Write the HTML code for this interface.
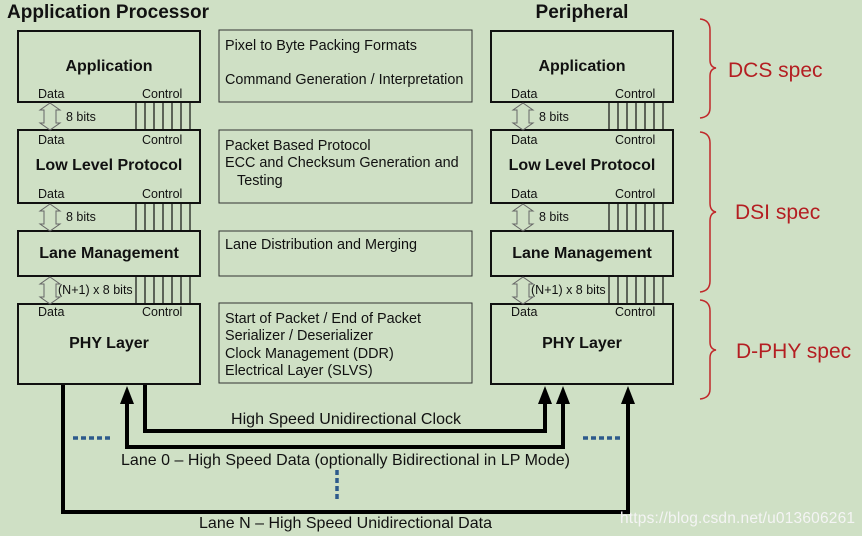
<!DOCTYPE html>
<html><head><meta charset="utf-8"><style>
html,body{margin:0;padding:0;background:#cfe0c5;}
svg{display:block;font-family:"Liberation Sans",Arial,sans-serif;}
</style></head><body>
<svg width="862" height="536" viewBox="0 0 862 536" xmlns="http://www.w3.org/2000/svg">
<rect width="862" height="536" fill="#cfe0c5"/>
<g font-weight="bold" font-size="19" fill="#111">
<text x="7" y="18" textLength="202">Application Processor</text>
<text x="582" y="18" text-anchor="middle">Peripheral</text>
</g>
<defs>
<g id="col">
 <g fill="none" stroke="#111" stroke-width="2">
  <rect x="0" y="31" width="182" height="71"/>
  <rect x="0" y="130" width="182" height="73"/>
  <rect x="0" y="231" width="182" height="45"/>
  <rect x="0" y="304" width="182" height="80"/>
 </g>
 <g stroke="#111" stroke-width="1.2">
  <path d="M118 102V130M127 102V130M136 102V130M145 102V130M154 102V130M163 102V130M172 102V130"/>
  <path d="M118 203V231M127 203V231M136 203V231M145 203V231M154 203V231M163 203V231M172 203V231"/>
  <path d="M118 276V304M127 276V304M136 276V304M145 276V304M154 276V304M163 276V304M172 276V304"/>
 </g>
 <g fill="none" stroke="#666" stroke-width="1">
  <path d="M32 103L42 110H38V123H42L32 130L22 123H26V110H22Z"/>
  <path d="M32 204L42 211H38V224H42L32 231L22 224H26V211H22Z"/>
  <path d="M32 277L42 284H38V297H42L32 304L22 297H26V284H22Z"/>
 </g>
 <g font-size="12.5" fill="#111">
  <text x="20" y="98">Data</text><text x="124" y="98">Control</text>
  <text x="20" y="144">Data</text><text x="124" y="144">Control</text>
  <text x="20" y="198">Data</text><text x="124" y="198">Control</text>
  <text x="20" y="316">Data</text><text x="124" y="316">Control</text>
  <text x="48" y="121">8 bits</text>
  <text x="48" y="221">8 bits</text>
  <text x="40" y="294">(N+1) x 8 bits</text>
 </g>
 <g font-size="16" font-weight="bold" fill="#111" text-anchor="middle">
  <text x="91" y="71">Application</text>
  <text x="91" y="170">Low Level Protocol</text>
  <text x="91" y="258">Lane Management</text>
  <text x="91" y="348">PHY Layer</text>
 </g>
</g>
</defs>
<use href="#col" x="18"/>
<use href="#col" x="491"/>
<g fill="none" stroke="#333" stroke-width="1">
 <rect x="219" y="30" width="253" height="72"/>
 <rect x="219" y="130" width="253" height="73"/>
 <rect x="219" y="231" width="253" height="45"/>
 <rect x="219" y="303" width="253" height="80"/>
</g>
<g font-size="14.4" fill="#111">
 <text x="225" y="50">Pixel to Byte Packing Formats</text>
 <text x="225" y="84">Command Generation / Interpretation</text>
 <text x="225" y="150">Packet Based Protocol</text>
 <text x="225" y="167">ECC and Checksum Generation and</text>
 <text x="237" y="185">Testing</text>
 <text x="225" y="249">Lane Distribution and Merging</text>
 <text x="225" y="323">Start of Packet / End of Packet</text>
 <text x="225" y="340">Serializer / Deserializer</text>
 <text x="225" y="358">Clock Management (DDR)</text>
 <text x="225" y="375">Electrical Layer (SLVS)</text>
</g>
<g fill="none" stroke="#000" stroke-width="4">
 <path d="M145 385V431H545V402"/>
 <path d="M127 402V447H563V402"/>
 <path d="M63 385V512H628V402"/>
</g>
<g fill="#000">
 <path d="M127 386L120 404H134Z"/>
 <path d="M545 386L538 404H552Z"/>
 <path d="M563 386L556 404H570Z"/>
 <path d="M628 386L621 404H635Z"/>
</g>
<g font-size="16" fill="#111">
 <text x="231" y="424" textLength="230">High Speed Unidirectional Clock</text>
 <text x="121" y="465" textLength="449">Lane 0 – High Speed Data (optionally Bidirectional in LP Mode)</text>
 <text x="199" y="528" textLength="293">Lane N – High Speed Unidirectional Data</text>
</g>
<g stroke="#2d5a8c" stroke-width="3.5" stroke-dasharray="5 3">
 <path d="M73 438H110"/>
 <path d="M583 438H620"/>
 <path d="M337 470V500"/>
</g>
<g fill="none" stroke="#c0282a" stroke-width="1.5">
 <path d="M700 19Q710 20 710 30V60Q710 67 716 68Q710 69 710 76V108Q710 117 700 118"/>
 <path d="M700 132Q710 133 710 143V203Q710 211 716 212Q710 213 710 221V281Q710 291 700 292"/>
 <path d="M700 300Q710 301 710 311V342Q710 349 716 350Q710 351 710 358V389Q710 398 700 399"/>
</g>
<g font-size="21" fill="#b41e22">
 <text x="728" y="77">DCS spec</text>
 <text x="735" y="219">DSI spec</text>
 <text x="736" y="358">D-PHY spec</text>
</g>
<text x="620" y="523" font-size="15.5" fill="#f4f4f4" textLength="235">https://blog.csdn.net/u013606261</text>
</svg>
</body></html>
